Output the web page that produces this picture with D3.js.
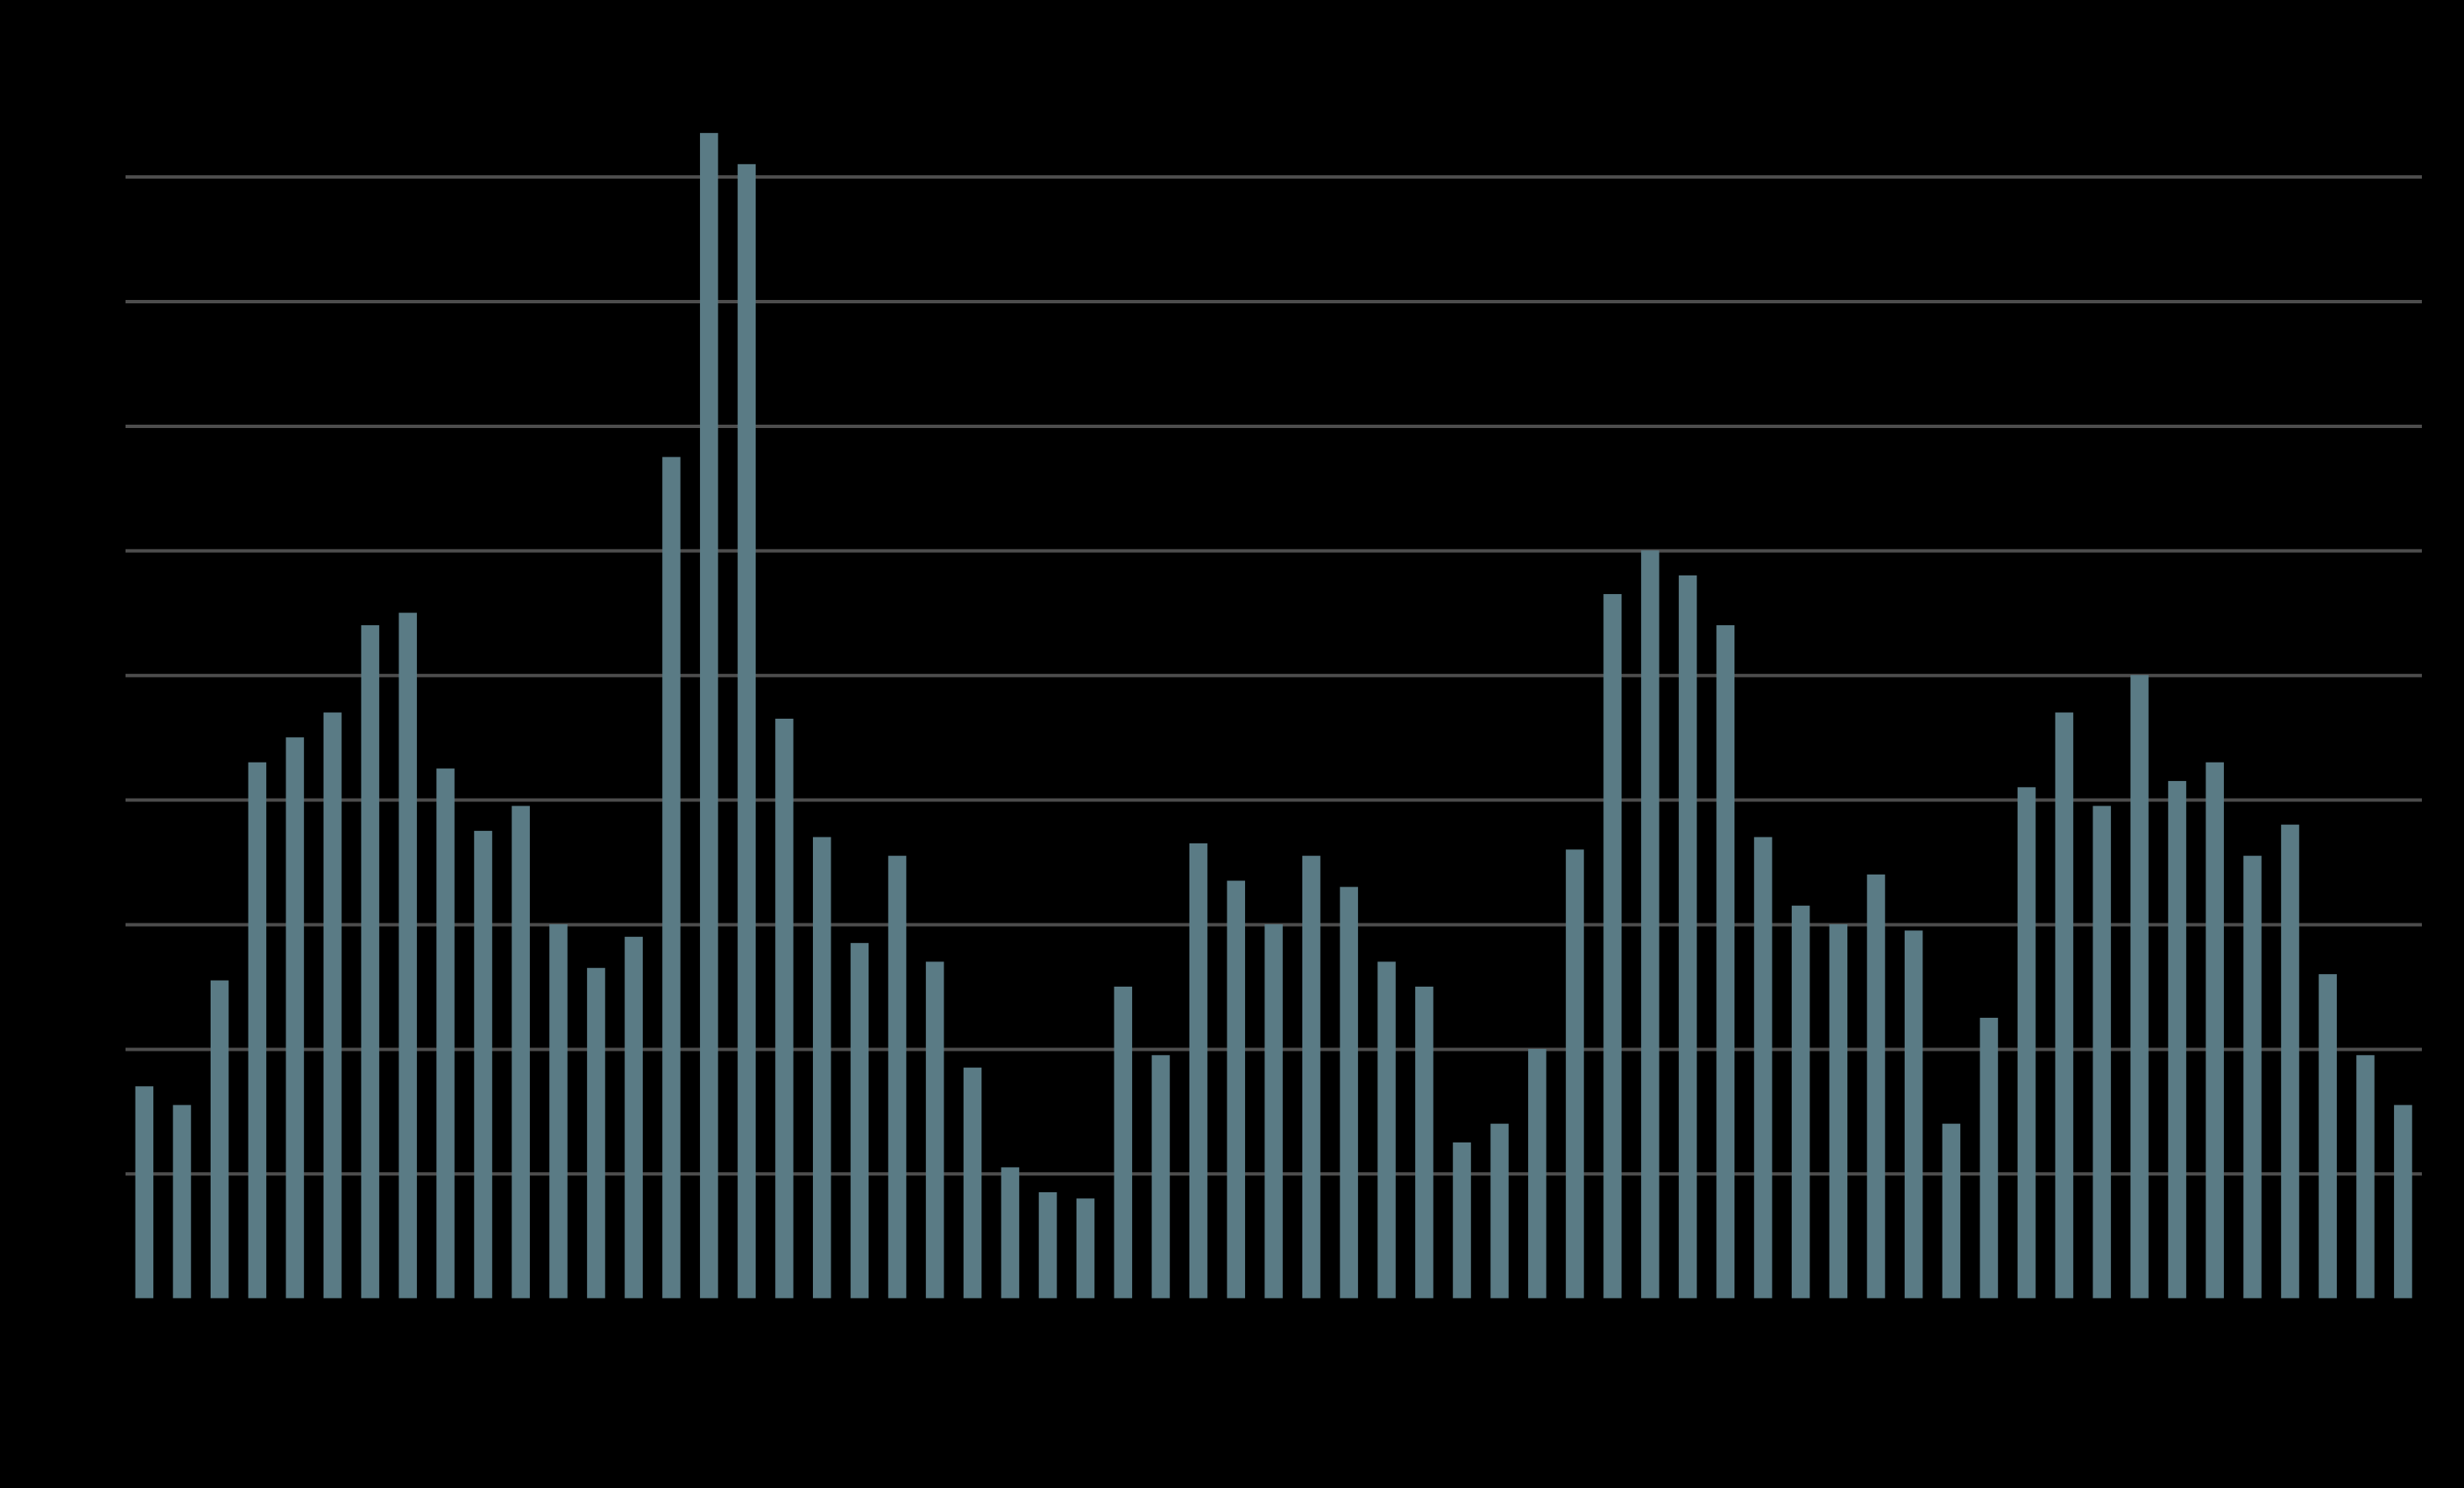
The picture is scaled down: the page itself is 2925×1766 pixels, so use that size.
<!DOCTYPE html>
<html>
<head>
<meta charset="utf-8">
<script src="https://cdn.jsdelivr.net/npm/d3@7"></script>
<style>
  html, body { margin: 0; padding: 0; background: #000; }
  svg { display: block; }
</style>
</head>
<body>
<script>
const categories = d3.range(1, 62).map(String);
const values = [
  1.70, 1.55, 2.55, 4.30, 4.50, 4.70, 5.40, 5.50, 4.25, 3.75,
  3.95, 3.00, 2.65, 2.90, 6.75, 9.35, 9.10, 4.65, 3.70, 2.85,
  3.55, 2.70, 1.85, 1.05, 0.85, 0.80, 2.50, 1.95, 3.65, 3.35,
  3.00, 3.55, 3.30, 2.70, 2.50, 1.25, 1.40, 2.00, 3.60, 5.65,
  6.00, 5.80, 5.40, 3.70, 3.15, 3.00, 3.40, 2.95, 1.40, 2.25,
  4.10, 4.70, 3.95, 5.00, 4.15, 4.30, 3.55, 3.80, 2.60, 1.95,
  1.55
];
const yTicks = [1, 2, 3, 4, 5, 6, 7, 8, 9];

(function () {
  const W = 2925, H = 1766;
  const mLeft = 149, mRight = 2875, mTop = 209.6, mBottom = 1540.7;

  const svg = d3.select("body").append("svg")
    .attr("width", W).attr("height", H)
    .style("background", "#000");

  const x = d3.scaleBand().domain(categories).range([mLeft, mRight]).paddingInner(0.52).paddingOuter(0.26);
  const y = d3.scaleLinear().domain([0, 9]).range([mBottom, mTop]);

  const grid = d3.axisLeft(y).tickValues(yTicks).tickSize(-(mRight - mLeft)).tickFormat("");
  svg.append("g")
    .attr("transform", `translate(${mLeft},0)`)
    .call(grid)
    .call(g => g.select(".domain").remove())
    .call(g => g.selectAll(".tick line").attr("stroke", "#4d4d4d").attr("stroke-width", 4));

  svg.append("g").selectAll("rect")
    .data(values)
    .join("rect")
    .attr("x", (d, i) => x(categories[i]))
    .attr("width", x.bandwidth())
    .attr("y", d => y(d))
    .attr("height", d => y(0) - y(d))
    .attr("fill", "#5a7b85");
})();
</script>
</body>
</html>
